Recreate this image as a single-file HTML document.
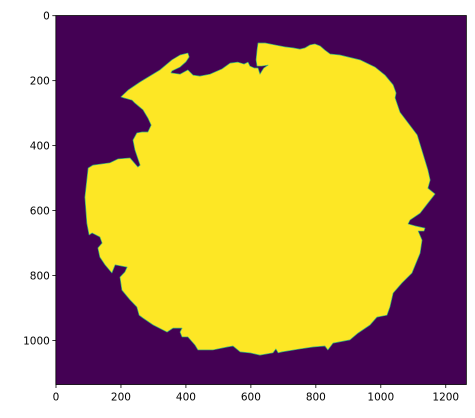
<!DOCTYPE html>
<html><head><meta charset="utf-8">
<style>
html,body{margin:0;padding:0;background:#fff;}
svg{display:block;font-family:"DejaVu Sans","Liberation Sans",sans-serif;}
</style></head>
<body>
<svg id="chart" width="475" height="418" viewBox="0 0 475 418" xmlns="http://www.w3.org/2000/svg">
<g id="plot"></g>
<g id="axes"></g>
</svg>
<script>
// image size (data pixels)
const imgWidth = 1264;
const imgHeight = 1136;
const xTicks = [0, 200, 400, 600, 800, 1000, 1200];
const yTicks = [0, 200, 400, 600, 800, 1000];
// mask outline (x, y in image pixels)
const outlineX = [200,222,259,320,357,382,406,410,400,382,357,354,382,406,422,443,474,511,536,560,579,591,597,610,622,628,634,640,653,634,619,616,619,622,644,674,705,730,751,767,782,797,813,828,844,874,936,982,1013,1038,1047,1044,
1059,1112,1145,1152,1145,1167,1145,1121,1090,1084,1105,1136,1133,1115,1127,1121,1096,1065,1038,1028,1019,988,967,930,905,853,837,828,791,751,696,684,677,668,628,597,567,545,527,483,437,428,406,388,382,388,360,342,299,268,256,249,
228,203,197,212,219,182,172,151,135,129,142,135,111,102,95,89,99,114,166,191,228,252,259,243,237,249,265,283,293,283,268,243,234,209];
const outlineY = [250,229,204,167,136,121,115,127,142,158,170,176,180,167,183,186,180,164,146,143,149,143,155,161,161,180,170,161,152,155,155,136,106,84,84,90,96,99,103,99,90,87,93,106,118,121,136,158,183,213,238,253,
297,367,475,506,531,549,577,608,629,641,647,654,663,663,691,731,792,823,854,897,922,928,952,977,998,1008,1029,1017,1020,1026,1035,1038,1026,1038,1045,1038,1035,1017,1020,1029,1029,1014,989,989,974,962,962,974,952,931,922,897,
875,845,805,789,774,767,792,767,743,715,700,681,669,675,639,559,469,460,453,441,438,466,460,413,383,361,358,358,337,315,290,269,260,253];

const NS = "http://www.w3.org/2000/svg";
const S = 0.3248, X0 = 56, Y0 = 15.7;
const sx = u => X0 + u * S;
const sy = v => Y0 + v * S;
const plotG = document.getElementById('plot');
const axesG = document.getElementById('axes');
function mk(tag, attrs, parent){const e=document.createElementNS(NS,tag);for(const k in attrs)e.setAttribute(k,attrs[k]);parent.appendChild(e);return e;}

const boxLeft = sx(-0.5), boxRight = sx(imgWidth - 0.5), boxTop = sy(-0.5), boxBottom = sy(imgHeight - 0.5);
const bg = mk('rect',{x:boxLeft,y:boxTop,width:boxRight-boxLeft,height:boxBottom-boxTop,fill:'#440154'},plotG);



const pts = outlineX.map((u,i)=>sx(u).toFixed(2)+','+sy(outlineY[i]).toFixed(2)).join(' ');
const blob = mk('polygon',{points:pts,fill:'#fde725',stroke:'#35b779','stroke-width':0.7,'stroke-linejoin':'round'},plotG);



const frame = mk('rect',{x:boxLeft,y:boxTop,width:boxRight-boxLeft,height:boxBottom-boxTop,fill:'none',stroke:'#000','stroke-width':0.8},axesG);



xTicks.forEach(t=>{
  const x = sx(t);
  const l = mk('line',{x1:x,x2:x,y1:boxBottom,y2:boxBottom+3.5,stroke:'#000','stroke-width':0.8},axesG);
  
  
  const tx = mk('text',{x:x,y:boxBottom+16,'text-anchor':'middle','font-size':'10.5px',fill:'#000'},axesG);
  tx.textContent = t;
  
  
});
yTicks.forEach(t=>{
  const y = sy(t);
  const l = mk('line',{x1:boxLeft-3.5,x2:boxLeft,y1:y,y2:y,stroke:'#000','stroke-width':0.8},axesG);
  
  
  const tx = mk('text',{x:boxLeft-6,y:y+4,'text-anchor':'end','font-size':'10.5px',fill:'#000'},axesG);
  tx.textContent = t;
  
  
});
</script>
</body></html>
